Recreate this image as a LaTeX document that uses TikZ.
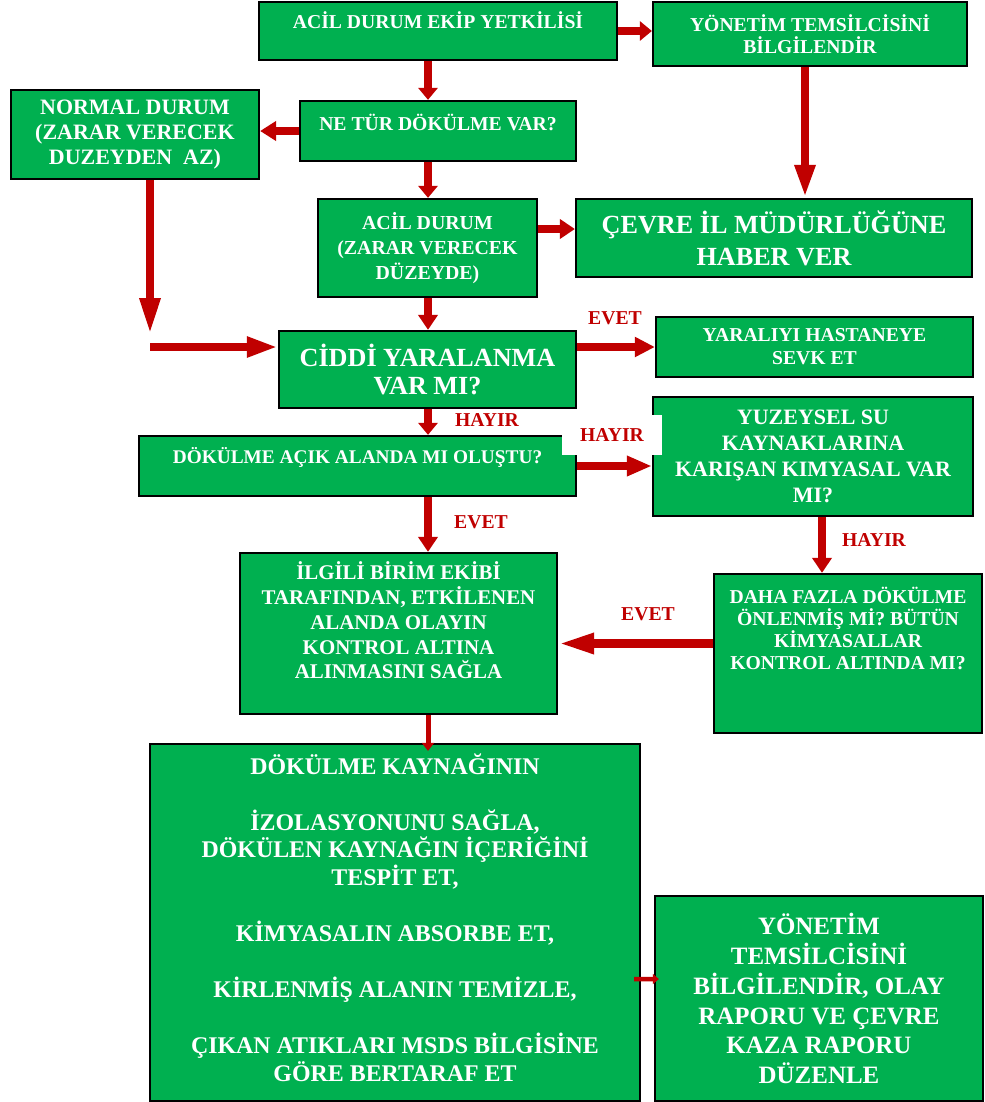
\documentclass[tikz,border=0pt]{standalone}
\usepackage{fontspec}
\setmainfont{Liberation Serif}
\usepackage{tikz}
\usetikzlibrary{arrows.meta, positioning, calc}
\definecolor{boxgreen}{RGB}{0, 176, 80}
\definecolor{arrowred}{RGB}{192, 0, 0}
\newcommand{\boxfont}[2]{\fontsize{#1}{#2}\selectfont\bfseries}

\begin{document}
\begin{tikzpicture}[
    x=0.02cm, y=-0.02cm,
    box/.style={rectangle, draw=black, line width=1.3pt, fill=boxgreen, text=white, inner sep=0pt, align=center},
    answer/.style={text=arrowred, inner sep=0pt, font=\boxfont{11.2}{12}},
    arrow/.style={draw=arrowred, line width=0.17cm, -{Triangle[length=#1, width=0.38cm]}},
    arrow/.default=0.3cm,
    thinarrow/.style={draw=arrowred, line width=0.1cm, -{Triangle[length=0.16cm, width=0.24cm]}},
    tinyarrow/.style={draw=arrowred, line width=0.09cm, -{Triangle[length=0.12cm, width=0.2cm]}}
]
    \useasboundingbox (0,0) rectangle (984,1102);

    % Boxes
    \node[box, minimum width=7.16cm, minimum height=1.16cm, text height=0.52cm, text depth=0.64cm, font=\boxfont{11.2}{13}] (acil) at (438,31) {ACİL DURUM EKİP YETKİLİSİ};
    \node[box, minimum width=6.28cm, minimum height=1.28cm, font=\boxfont{11.2}{12.5}] (ytemsil) at (810,34) {YÖNETİM TEMSİLCİSİNİ\\BİLGİLENDİR};
    \node[box, minimum width=4.96cm, minimum height=1.78cm, font=\boxfont{12.5}{14.2}] (normal) at (135,134.5) {NORMAL DURUM\\(ZARAR VERECEK\\DUZEYDEN\ \ AZ)};
    \node[box, minimum width=5.52cm, minimum height=1.2cm, text height=0.58cm, text depth=0.62cm, font=\boxfont{11.2}{13}] (netur) at (438,131) {NE TÜR DÖKÜLME VAR?};
    \node[box, minimum width=4.38cm, minimum height=1.96cm, font=\boxfont{11.3}{14.2}] (acil2) at (427.5,248) {ACİL DURUM\\(ZARAR VERECEK\\DÜZEYDE)};
    \node[box, minimum width=7.92cm, minimum height=1.56cm, font=\boxfont{14.9}{18.1}] (cevre) at (774,238) {ÇEVRE İL MÜDÜRLÜĞÜNE\\HABER VER};
    \node[box, minimum width=5.94cm, minimum height=1.54cm, font=\boxfont{14.9}{15.9}] (ciddi) at (427.5,369.5) {CİDDİ YARALANMA\\VAR MI?};
    \node[box, minimum width=6.34cm, minimum height=1.2cm, font=\boxfont{11.2}{13}] (yarali) at (814.5,347) {YARALIYI HASTANEYE\\SEVK ET};
    \node[box, minimum width=8.74cm, minimum height=1.2cm, text height=0.54cm, text depth=0.66cm, font=\boxfont{11}{13}] (acikalan) at (357.5,466) {DÖKÜLME AÇIK ALANDA MI OLUŞTU?};
    \node[box, minimum width=6.4cm, minimum height=2.38cm, font=\boxfont{12.5}{14.7}] (yuzeysel) at (813,456.5) {YUZEYSEL SU\\KAYNAKLARINA\\KARIŞAN KIMYASAL VAR\\MI?};
    \node[box, minimum width=6.34cm, minimum height=3.22cm, text height=2.52cm, text depth=0.7cm, font=\boxfont{11.9}{14.2}] (ilgili) at (398.5,633.5) {İLGİLİ BİRİM EKİBİ\\TARAFINDAN, ETKİLENEN\\ALANDA OLAYIN\\KONTROL ALTINA\\ALINMASINI SAĞLA};
    \node[box, minimum width=5.36cm, minimum height=3.18cm, text height=1.9cm, text depth=1.28cm, font=\boxfont{11.2}{12.5}] (daha) at (848,653.5) {DAHA FAZLA DÖKÜLME\\ÖNLENMİŞ Mİ? BÜTÜN\\KİMYASALLAR\\KONTROL ALTINDA MI?};
    \node[box, minimum width=9.8cm, minimum height=7.14cm, text height=6.75cm, text depth=0.39cm, font=\boxfont{13.6}{15.9}] (kaynak) at (395,922.5) {DÖKÜLME KAYNAĞININ\\[15.9pt]İZOLASYONUNU SAĞLA,\\DÖKÜLEN KAYNAĞIN İÇERİĞİNİ\\TESPİT ET,\\[15.9pt]KİMYASALIN ABSORBE ET,\\[15.9pt]KİRLENMİŞ ALANIN TEMİZLE,\\[15.9pt]ÇIKAN ATIKLARI MSDS BİLGİSİNE\\GÖRE BERTARAF ET};
    \node[box, minimum width=6.56cm, minimum height=4.1cm, font=\boxfont{14.2}{17}] (rapor) at (819,998.5) {YÖNETİM\\TEMSİLCİSİNİ\\BİLGİLENDİR, OLAY\\RAPORU VE ÇEVRE\\KAZA RAPORU\\DÜZENLE};

    % Main column
    \coordinate (trunk) at (428,0);
    \draw[arrow=0.24cm] (acil.south -| trunk) -- (netur.north -| trunk);
    \draw[arrow=0.24cm] (netur.south -| trunk) -- (acil2.north -| trunk);
    \draw[arrow=0.3cm] (acil2.south -| trunk) -- (ciddi.north -| trunk);
    \draw[arrow=0.24cm] (ciddi.south -| trunk) -- (acikalan.north -| trunk);
    \draw[arrow=0.3cm] (acikalan.south -| trunk) -- (ilgili.north -| trunk);
    \draw[thinarrow] (ilgili.south -| trunk) -- ([yshift=-0.16cm]kaynak.north -| trunk);

    % Side arrows
    \draw[arrow=0.24cm] (acil.east) -- (acil.east -| ytemsil.west);
    \draw[arrow=0.32cm] (netur.west) -- (netur.west -| normal.east);
    \draw[arrow=0.66cm] ([xshift=-0.1cm]ytemsil.south) -- ([xshift=-0.1cm]ytemsil.south |- cevre.north);
    \draw[arrow=0.3cm] ([yshift=0.38cm]acil2.east) -- ([yshift=0.38cm]acil2.east -| cevre.west);
    \draw[arrow=0.4cm] (ciddi.east |- yarali.west) -- (yarali.west);
    \draw[arrow=0.5cm] (acikalan.east) -- (acikalan.east -| yuzeysel.west);
    \draw[arrow=0.3cm] ([xshift=0.18cm]yuzeysel.south) -- ([xshift=0.18cm]yuzeysel.south |- daha.north);
    \draw[arrow=0.72cm] ([yshift=0.2cm]daha.west) -- ([yshift=0.2cm]daha.west -| ilgili.east);
    \draw[tinyarrow] ([xshift=-0.14cm,yshift=-1.13cm]kaynak.east) -- ([xshift=0.1cm,yshift=0.39cm]rapor.west);

    % Normal case back to the main column
    \coordinate (drop) at (150,335);
    \coordinate (turn) at (150,347);
    \draw[arrow=0.74cm] (normal.south -| drop) -- (drop);
    \draw[arrow=0.62cm] (turn) -- (turn -| ciddi.west);

    % Answers
    \node[answer] (evet1) at (615,318) {EVET};
    \node[answer] (hayir1) at (487,420) {HAYIR};
    \node[answer, fill=white, minimum width=2cm, minimum height=0.8cm] (hayir2) at (612,435) {HAYIR};
    \node[answer] (evet2) at (481,522) {EVET};
    \node[answer] (hayir3) at (874,540) {HAYIR};
    \node[answer] (evet3) at (648,614) {EVET};

\end{tikzpicture}
\end{document}
